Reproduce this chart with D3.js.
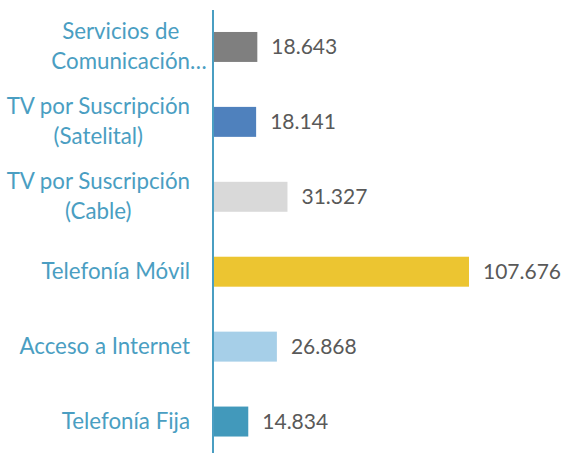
<!DOCTYPE html>
<html>
<head>
<meta charset="utf-8">
<script src="https://cdn.jsdelivr.net/npm/d3@7"></script>
<style>
  html, body { margin: 0; padding: 0; background: #fff; }
  svg { display: block; }
</style>
</head>
<body>
<svg id="chart" width="563" height="453"></svg>
<script>
const categories = [
  ["Servicios de", "Comunicación…"],
  ["TV por Suscripción", "(Satelital)"],
  ["TV por Suscripción", "(Cable)"],
  ["Telefonía Móvil"],
  ["Acceso a Internet"],
  ["Telefonía Fija"]
];
const values = [18.643, 18.141, 31.327, 107.676, 26.868, 14.834];
const valueLabels = ["18.643", "18.141", "31.327", "107.676", "26.868", "14.834"];
const barColors = ["#7f7f7f", "#4f81bd", "#d9d9d9", "#ecc531", "#a6cfe8", "#4299bb"];

const W = 563, H = 453;
const axisX = 213;
const labelColor = "#4a9ec2";
const font = "Lato, 'Open Sans', sans-serif";
const labelSize = 22.3;

const svg = d3.select("#chart");
const idx = d3.range(categories.length);

const y = d3.scaleBand().domain(idx).range([9.5, 459]).paddingInner(0.6).paddingOuter(0.3);
const x = d3.scaleLinear().domain([0, 107.676]).range([axisX, 469]);

// bars
svg.append("g").selectAll("rect").data(idx).join("rect")
  .attr("x", x(0))
  .attr("y", i => y(i))
  .attr("width", i => x(values[i]) - x(0))
  .attr("height", y.bandwidth())
  .attr("fill", i => barColors[i]);

// axis line
svg.append("line")
  .attr("x1", axisX).attr("x2", axisX)
  .attr("y1", 10).attr("y2", H)
  .attr("stroke", labelColor).attr("stroke-width", 2);

// value labels
svg.append("g").selectAll("text").data(idx).join("text")
  .attr("x", i => x(values[i]) + 14)
  .attr("y", i => y(i) + y.bandwidth() / 2)
  .attr("dy", "0.35em")
  .attr("font-family", font)
  .attr("font-size", 21)
  .attr("fill", "#595959")
  .text(i => valueLabels[i]);

// category labels
const lineH = 30;
const rightEdge = 190;
const measure = svg.append("text").attr("font-family", font).attr("font-size", labelSize).attr("visibility", "hidden");
function w(s) { measure.text(s.replace(/…$/, "")); return measure.node().getComputedTextLength(); }

const lg = svg.append("g");
idx.forEach(i => {
  const lines = categories[i];
  const widths = lines.map(w);
  const maxW = d3.max(widths);
  const cx = rightEdge - maxW / 2;
  const cy = y(i) + y.bandwidth() / 2;
  lines.forEach((ln, j) => {
    lg.append("text")
      .attr("x", cx - widths[j] / 2)
      .attr("y", cy + (j - (lines.length - 1) / 2) * lineH + 7.5)
      .attr("font-family", font)
      .attr("font-size", labelSize)
      .attr("fill", labelColor)
      .text(ln);
  });
});
measure.remove();
</script>
</body>
</html>
